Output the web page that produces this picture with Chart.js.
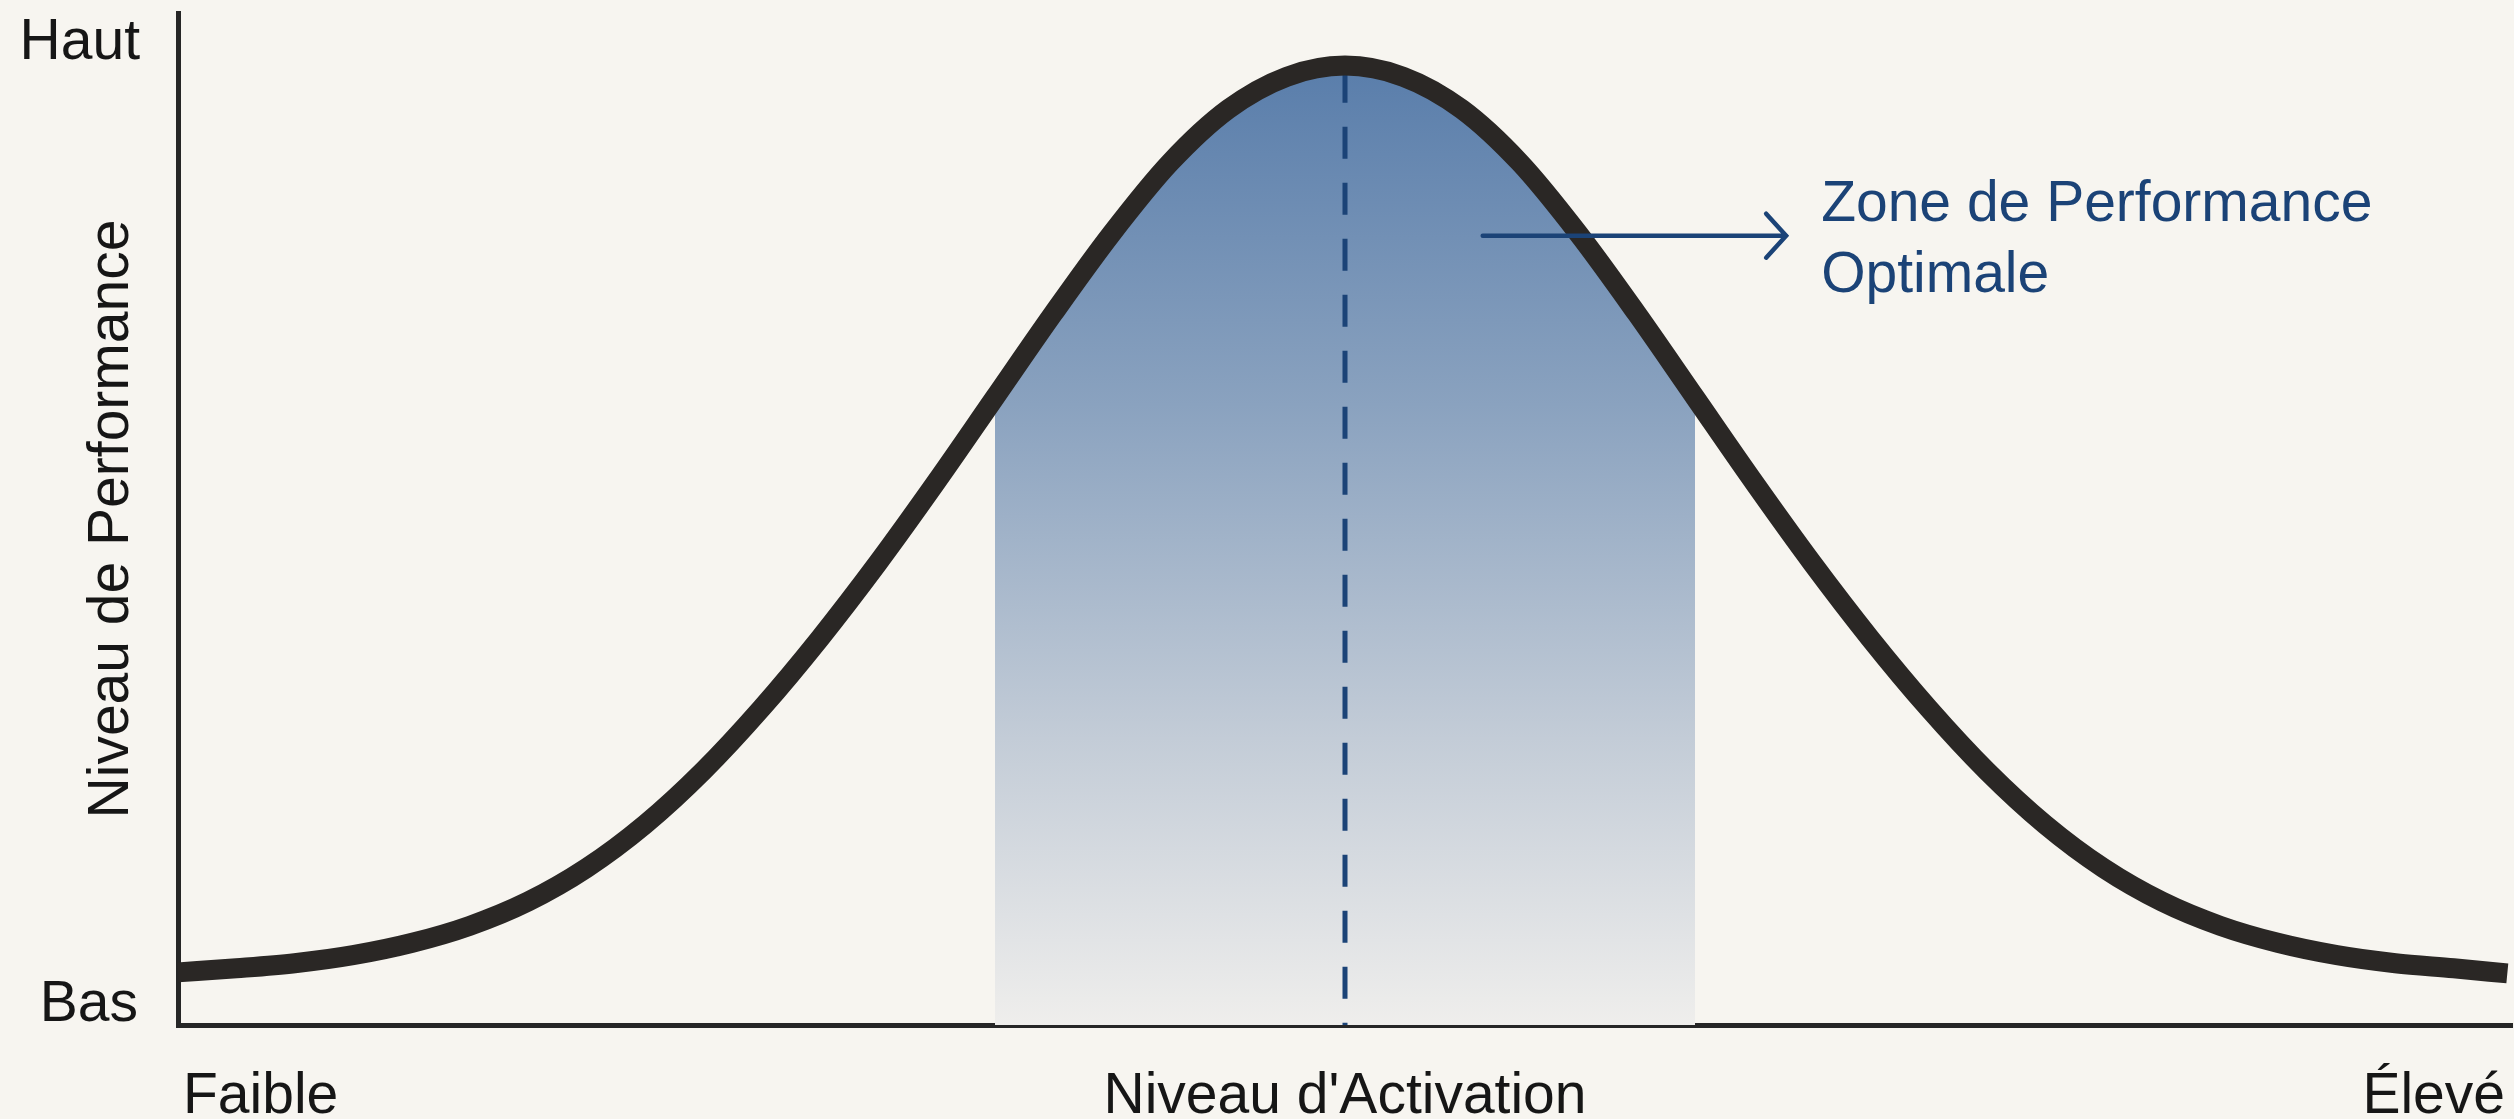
<!DOCTYPE html>
<html lang="fr">
<head>
<meta charset="utf-8">
<title>Niveau d'Activation</title>
<script src="https://cdn.jsdelivr.net/npm/chart.js@4.4.1/dist/chart.umd.min.js"></script>
<style>
  html, body { margin: 0; padding: 0; background: #f7f5f0; }
  #wrap { width: 2514px; height: 1119px; position: relative; }
</style>
</head>
<body>
<div id="wrap"><canvas id="yerkes"></canvas></div>
<script>
// curve (x = activation 0-100, y = performance 0-100)
const activation = [0, 2.5, 5, 7.5, 10, 12.5, 15, 17.5, 20, 22.5, 25, 27.5, 30, 32.5, 35, 37.5, 40, 42.5, 45, 47.5,
                    50, 52.5, 55, 57.5, 60, 62.5, 65, 67.5, 70, 72.5, 75, 77.5, 80, 82.5, 85, 87.5, 90, 92.5, 95, 97.5, 99.8];
const performance = [5.2, 5.6, 6.1, 6.9, 8.1, 9.8, 12.2, 15.5, 19.8, 25.1, 31.3, 38.2, 45.7, 53.7, 62.0, 70.3, 78.2, 85.2, 90.5, 93.7,
                     94.8, 93.7, 90.5, 85.2, 78.2, 70.3, 62.0, 53.7, 45.7, 38.2, 31.3, 25.1, 19.8, 15.5, 12.2, 9.8, 8.1, 6.9, 6.1, 5.6, 5.1];

// optimal zone bounds and the peak marker
const zoneStart = 35.0;
const zoneEnd = 65.0;
const peakX = 50.0;
const peakY = 94.3;

const yTickLabels = ['Bas', 'Haut'];
const xTickLabels = ['Faible', 'Élevé'];
const xTitle = "Niveau d'Activation";
const yTitle = 'Niveau de Performance';
const zoneLabel = ['Zone de Performance', 'Optimale'];

const curvePts = activation.map((x, i) => ({x: x, y: performance[i]}));
const zonePts = curvePts.filter(p => p.x >= zoneStart && p.x <= zoneEnd);

const ink = '#262626';
const navy = '#1b4377';
const font = '"Liberation Sans", Arial, sans-serif';

function zoneFill(ctx) {
  const chart = ctx.chart;
  const area = chart.chartArea;
  if (!area) return 'rgba(90,127,171,0.6)';
  const top = chart.scales.y.getPixelForValue(peakY);
  const g = chart.ctx.createLinearGradient(0, top, 0, area.bottom);
  g.addColorStop(0, '#5a7eab');
  g.addColorStop(0.35, '#8aa2bf');
  g.addColorStop(0.7, '#c3ccd7');
  g.addColorStop(1, '#efeeec');
  return g;
}

// texts, arrow and axis words
const labelsPlugin = {
  id: 'labels',
  afterDatasetsDraw(chart) {
    const c = chart.ctx;
    const area = chart.chartArea;
    const xs = chart.scales.x, ys = chart.scales.y;
    c.save();
    c.fillStyle = '#161616';
    c.font = '57px ' + font;
    c.textBaseline = 'middle';
    c.textAlign = 'right';
    c.fillText(yTickLabels[1], area.left - 38, area.top + 30);
    c.fillText(yTickLabels[0], area.left - 40, area.bottom - 20);

    c.textBaseline = 'alphabetic';
    c.textAlign = 'left';
    c.fillText(xTickLabels[0], area.left + 5, area.bottom + 88);
    c.textAlign = 'right';
    c.fillText(xTickLabels[1], area.right - 7, area.bottom + 88);
    c.textAlign = 'center';
    c.fillText(xTitle, xs.getPixelForValue(peakX), area.bottom + 88);

    c.save();
    c.translate(area.left - 37, (area.top + area.bottom) / 2);
    c.rotate(-Math.PI / 2);
    c.textBaseline = 'bottom';
    c.fillText(yTitle, 0, 0);
    c.restore();

    // arrow
    const ay = ys.getPixelForValue(78.0);
    const ax0 = xs.getPixelForValue(55.9);
    const ax1 = xs.getPixelForValue(68.9);
    c.strokeStyle = navy;
    c.lineWidth = 4.5;
    c.lineCap = 'round';
    c.beginPath();
    c.moveTo(ax0, ay);
    c.lineTo(ax1, ay);
    c.moveTo(ax1 - 20, ay - 22);
    c.lineTo(ax1, ay);
    c.lineTo(ax1 - 20, ay + 22);
    c.stroke();

    c.fillStyle = navy;
    c.textAlign = 'left';
    c.font = '57px ' + font;
    const tx = xs.getPixelForValue(70.4);
    c.fillText(zoneLabel[0], tx, ys.getPixelForValue(79.4));
    c.fillText(zoneLabel[1], tx, ys.getPixelForValue(72.4));
    c.restore();
  }
};

new Chart(document.getElementById('yerkes'), {
  type: 'line',
  data: {
    datasets: [
      {
        label: 'courbe',
        data: curvePts,
        borderColor: '#2a2725',
        borderWidth: 20,
        borderCapStyle: 'butt',
        cubicInterpolationMode: 'monotone',
        pointRadius: 0,
        fill: false,
        clip: false
      },
      {
        label: 'pic',
        data: [{x: peakX, y: peakY}, {x: peakX, y: 0}],
        borderColor: navy,
        borderWidth: 5,
        borderDash: [32, 24],
        pointRadius: 0,
        fill: false,
        clip: false
      },
      {
        label: 'zone',
        data: zonePts,
        borderWidth: 0,
        borderColor: 'rgba(0,0,0,0)',
        backgroundColor: zoneFill,
        cubicInterpolationMode: 'monotone',
        pointRadius: 0,
        fill: 'origin'
      }
    ]
  },
  options: {
    responsive: true,
    maintainAspectRatio: false,
    animation: false,
    layout: { padding: { left: 178, right: 2, top: 13, bottom: 94 } },
    plugins: { legend: { display: false }, tooltip: { enabled: false } },
    scales: {
      x: {
        type: 'linear', min: 0, max: 100,
        ticks: { display: false },
        grid: { display: false, drawTicks: false },
        border: { display: true, color: ink, width: 5 }
      },
      y: {
        type: 'linear', min: 0, max: 100,
        ticks: { display: false },
        grid: { display: false, drawTicks: false },
        border: { display: true, color: ink, width: 5 }
      }
    }
  },
  plugins: [labelsPlugin]
});
</script>
</body>
</html>
